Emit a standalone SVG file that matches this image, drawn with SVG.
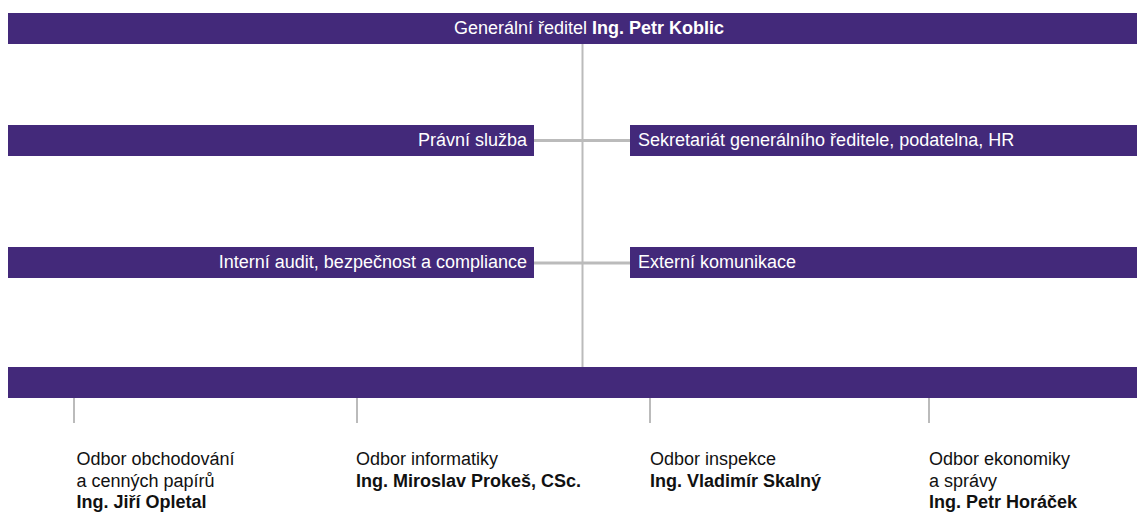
<svg xmlns="http://www.w3.org/2000/svg" width="1137" height="520" viewBox="0 0 1137 520">
<style>
.bar{fill:#43297a}
.bt{font-family:"Liberation Sans",Arial,sans-serif;font-size:18px;fill:#ffffff}
.lbl{font-family:"Liberation Sans",Arial,sans-serif;font-size:18px;fill:#111111}
.b{font-weight:bold}
.ln{stroke:#bbbbbb;stroke-width:2;fill:none}
.hl{stroke:#bbbbbb;stroke-width:3;fill:none}
</style>
<rect width="1137" height="520" fill="#ffffff"/>
<g id="connectors">
<line class="ln" x1="582.5" y1="44" x2="582.5" y2="367"/>
<line class="hl" x1="534" y1="140.5" x2="630" y2="140.5"/>
<line class="hl" x1="534" y1="263" x2="630" y2="263"/>
<line class="ln" x1="74" y1="398" x2="74" y2="423"/>
<line class="ln" x1="357" y1="398" x2="357" y2="423"/>
<line class="ln" x1="650" y1="398" x2="650" y2="423"/>
<line class="ln" x1="929" y1="398" x2="929" y2="423"/>
</g>
<g id="ceo">
<rect class="bar" x="8" y="13" width="1129" height="31"/>
<text class="bt" x="454" y="33.5">Generální ředitel <tspan class="b">Ing. Petr Koblic</tspan></text>
</g>
<g id="pravni">
<rect class="bar" x="8" y="125" width="526" height="31"/>
<text class="bt" x="527" y="145.5" text-anchor="end">Právní služba</text>
</g>
<g id="sekretariat">
<rect class="bar" x="630" y="125" width="507" height="31"/>
<text class="bt" x="638" y="145.5">Sekretariát generálního ředitele, podatelna, HR</text>
</g>
<g id="audit">
<rect class="bar" x="8" y="247" width="526" height="31"/>
<text class="bt" x="527" y="267.5" text-anchor="end">Interní audit, bezpečnost a compliance</text>
</g>
<g id="externi">
<rect class="bar" x="630" y="247" width="507" height="31"/>
<text class="bt" x="638" y="267.5">Externí komunikace</text>
</g>
<g id="odbory">
<rect class="bar" x="8" y="367" width="1129" height="31"/>
</g>
<g id="obchodovani">
<text class="lbl" x="76.5" y="465">Odbor obchodování</text>
<text class="lbl" x="76.5" y="486.5">a cenných papírů</text>
<text class="lbl b" x="76.5" y="508">Ing. Jiří Opletal</text>
</g>
<g id="informatika">
<text class="lbl" x="356" y="465">Odbor informatiky</text>
<text class="lbl b" x="356" y="486.5">Ing. Miroslav Prokeš, CSc.</text>
</g>
<g id="inspekce">
<text class="lbl" x="650" y="465">Odbor inspekce</text>
<text class="lbl b" x="650" y="486.5">Ing. Vladimír Skalný</text>
</g>
<g id="ekonomika">
<text class="lbl" x="929" y="465">Odbor ekonomiky</text>
<text class="lbl" x="929" y="486.5">a správy</text>
<text class="lbl b" x="929" y="508">Ing. Petr Horáček</text>
</g>
</svg>
